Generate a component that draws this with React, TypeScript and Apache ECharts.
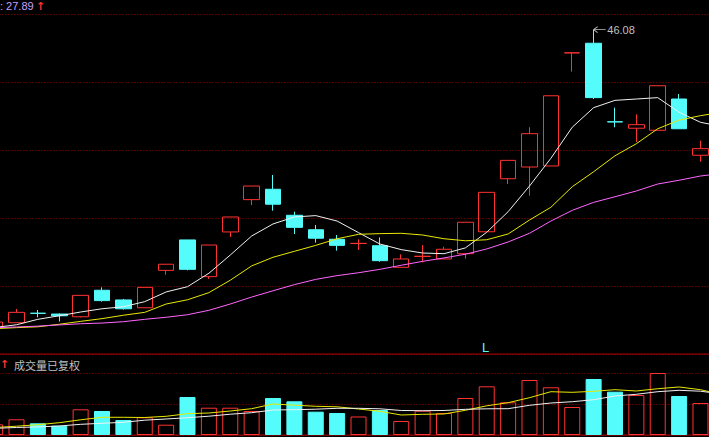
import React, { useEffect, useRef } from 'react';
import * as echarts from 'echarts';

// one slot per trading day; the last slot is only the moving averages running off the right edge
const days = [
    '01', '02', '03', '04', '05', '06', '07', '08', '09', '10',
    '11', '12', '13', '14', '15', '16', '17', '18', '19', '20',
    '21', '22', '23', '24', '25', '26', '27', '28', '29', '30',
    '31', '32', '33', '34', '35',
];

// [open, close, low, high]
const candles: (number[] | string)[] = [
    [28.59, 28.88, 28.47, 29.0],
    [28.84, 29.45, 28.84, 29.65],
    [29.4, 29.39, 29.16, 29.59],
    [29.35, 29.25, 28.91, 29.39],
    [29.19, 30.45, 29.15, 30.45],
    [30.75, 30.14, 30.08, 30.92],
    [30.18, 29.66, 29.61, 30.24],
    [29.72, 30.92, 29.72, 30.92],
    [31.92, 32.28, 31.66, 32.28],
    [33.71, 31.98, 31.92, 33.71],
    [31.55, 33.41, 31.41, 33.41],
    [34.18, 35.06, 33.88, 35.06],
    [36.08, 36.88, 35.76, 36.88],
    [36.69, 35.81, 35.43, 37.53],
    [35.16, 34.45, 34.06, 35.37],
    [34.31, 33.81, 33.55, 34.59],
    [33.75, 33.39, 33.08, 34.0],
    [33.5, 33.51, 33.12, 33.75],
    [33.37, 32.49, 32.43, 33.86],
    [32.1, 32.59, 32.1, 32.86],
    [32.74, 32.75, 32.39, 33.41],
    [32.59, 33.16, 32.59, 33.31],
    [32.9, 34.75, 32.61, 34.75],
    [34.19, 36.51, 34.19, 36.51],
    [37.31, 38.39, 37.0, 38.39],
    [38.0, 39.96, 36.31, 40.34],
    [38.06, 42.19, 38.06, 42.19],
    [44.71, 44.72, 43.61, 44.72],
    [45.28, 42.08, 42.0, 46.08],
    [40.66, 40.65, 40.34, 41.49],
    [40.28, 40.49, 39.47, 41.1],
    [40.16, 42.78, 40.16, 42.78],
    [42.0, 40.25, 40.25, 42.29],
    [38.69, 39.08, 38.31, 39.55],
    '-',
];

const ma5 = [
    28.56, 28.72, 29.04, 29.25, 29.47, 29.66, 29.78, 30.08, 30.65, 30.96,
    31.75, 32.82, 33.94, 34.65, 35.06, 35.14, 34.82, 34.14, 33.47, 33.14,
    32.94, 32.9, 33.24, 34.16, 35.37, 36.88, 38.51, 40.34, 41.49, 41.92,
    42.0, 42.08, 41.22, 40.63, 40.38,
];
const ma10 = [
    28.49, 28.55, 28.6, 28.75, 28.92, 29.08, 29.28, 29.45, 29.94, 30.19,
    30.61, 31.34, 32.18, 32.69, 33.04, 33.39, 33.78, 34.04, 34.08, 34.1,
    34.0, 33.78, 33.66, 33.72, 34.06, 34.88, 35.63, 36.84, 37.72, 38.66,
    39.37, 40.25, 40.76, 41.02, 41.22,
];
const ma20 = [
    28.55, 28.59, 28.64, 28.71, 28.78, 28.82, 28.9, 29.04, 29.16, 29.31,
    29.57, 29.94, 30.35, 30.72, 31.08, 31.39, 31.61, 31.78, 31.98, 32.22,
    32.45, 32.65, 32.87, 33.18, 33.59, 34.1, 34.82, 35.45, 35.92, 36.25,
    36.59, 37.0, 37.22, 37.47, 37.62,
];

// volume, 万手
const volumes = [
    3.47, 5.1, 3.8, 3.02, 8.34, 7.79, 4.87, 5.75, 3.34, 12.34,
    8.86, 8.86, 7.79, 12.01, 10.94, 7.57, 7.14, 6.01, 8.12, 4.55,
    7.89, 7.14, 12.01, 15.81, 10.62, 17.86, 15.49, 9.09, 18.18, 14.06,
    12.99, 20.13, 12.66, 10.39, '-',
];
const volMa5 = [
    2.44, 2.86, 3.34, 3.99, 4.94, 5.75, 5.75, 5.68, 6.07, 6.92,
    7.14, 7.79, 8.54, 10.07, 9.68, 9.32, 9.16, 8.44, 7.7, 6.49,
    6.72, 6.82, 8.02, 9.48, 10.49, 12.11, 14.06, 13.86, 14.19, 14.71,
    14.29, 15.03, 15.59, 14.71, 13.15,
];
const volMa10 = [
    2.18, 2.44, 2.63, 2.92, 3.47, 3.8, 4.12, 4.81, 5.2, 5.62,
    6.1, 6.75, 7.24, 8.12, 8.21, 8.38, 8.67, 8.67, 8.51, 7.96,
    7.89, 7.96, 8.34, 8.51, 8.54, 9.64, 10.39, 10.81, 11.46, 12.66,
    13.22, 14.06, 14.51, 14.22, 13.31,
];

const highIndex = 28;
const highValue = 46.08;
const legendValue = 27.89;

const RED = '#ff3232';
const CYAN = '#54fcfc';
const GRID_RED = '#a00000';
const FRAME_RED = '#a00000';
const GREY = '#c0c0c0';

// the chart div is wider than the window and shifted left, so the
// first and last day slots fall partly outside the visible frame
const SHIFT = 16;
const CHART_W = 749;

const makeVolumeBars = () =>
    volumes.map((v, i) => {
        const c = candles[i];
        if (typeof v !== 'number' || typeof c === 'string') return '-';
        const up = c[1] > c[0];
        return {
            value: v,
            itemStyle: up
                ? { color: 'rgba(0,0,0,0)', borderColor: RED, borderWidth: 1 }
                : { color: CYAN, borderColor: CYAN, borderWidth: 1 },
        };
    });

const maLine = (data: number[], color: string, xIdx: number, yIdx: number) => ({
    type: 'line' as const,
    data,
    xAxisIndex: xIdx,
    yAxisIndex: yIdx,
    symbol: 'none',
    showSymbol: false,
    silent: true,
    lineStyle: { color, width: 1 },
    z: 3,
});

const label = (text: string, x: number, y: number, fill: string, font: string) => ({
    type: 'text' as const,
    x: x + SHIFT,
    y,
    style: { text, fill, font, textVerticalAlign: 'middle', verticalAlign: 'middle' },
});

const dotted = { show: true, lineStyle: { color: GRID_RED, type: [1, 2], width: 1 } };

const makeOptions = (): echarts.EChartsOption => ({
    animation: false,
    backgroundColor: '#000',
    grid: [
        { left: 0.44, right: 0.44, top: 14, height: 340 },
        {
            left: 0.44,
            right: 0.44,
            top: 354,
            height: 81,
            show: true,
            borderColor: FRAME_RED,
            borderWidth: 1,
            backgroundColor: 'rgba(0,0,0,0)',
        },
    ],
    xAxis: [
        { type: 'category', gridIndex: 0, data: days, show: false },
        { type: 'category', gridIndex: 1, data: days, show: false },
    ],
    yAxis: [
        { type: 'value', gridIndex: 0, min: 27, max: 47, show: false },
        {
            type: 'value',
            gridIndex: 0,
            min: 0,
            max: 5,
            interval: 1,
            axisLine: { show: false },
            axisTick: { show: false },
            axisLabel: { show: false },
            splitLine: dotted,
        },
        {
            type: 'value',
            gridIndex: 1,
            min: 0,
            max: 26.3,
            interval: 10,
            axisLine: { show: false },
            axisTick: { show: false },
            axisLabel: { show: false },
            splitLine: dotted,
        },
    ],
    series: [
        {
            type: 'candlestick',
            xAxisIndex: 0,
            yAxisIndex: 0,
            data: candles,
            barWidth: 16,
            silent: true,
            itemStyle: {
                color: 'rgba(0,0,0,0)',
                color0: CYAN,
                borderColor: RED,
                borderColor0: CYAN,
                borderWidth: 1,
            },
            markPoint: {
                silent: true,
                symbol: 'path://M0,3L4,0M0,3L4,6M0,3L12,3',
                symbolSize: [12, 6],
                symbolOffset: [6, 0],
                itemStyle: { color: 'rgba(0,0,0,0)', borderColor: GREY, borderWidth: 1 },
                label: {
                    show: true,
                    position: 'right',
                    distance: 1,
                    color: GREY,
                    fontSize: 11,
                    fontFamily: 'Liberation Sans',
                    formatter: '{c}',
                },
                data: [{ coord: [highIndex, highValue], value: highValue }],
            },
        },
        maLine(ma5, '#f0f0f0', 0, 0),
        maLine(ma10, '#e8e800', 0, 0),
        maLine(ma20, '#ff66ff', 0, 0),
        {
            type: 'bar',
            xAxisIndex: 1,
            yAxisIndex: 2,
            data: makeVolumeBars(),
            barWidth: 16,
            silent: true,
        },
        maLine(volMa5, '#e8e800', 1, 2),
        maLine(volMa10, '#f0f0f0', 1, 2),
    ],
    graphic: [
        label(': ' + legendValue.toFixed(2), 0, 6, '#c8a0ff', '11px "Liberation Sans"'),
        label('↑', 36, 6, RED, 'bold 11px "DejaVu Sans"'),
        label('L', 482, 347, CYAN, '13px "Liberation Sans"'),
        label('↑', 0, 364, RED, 'bold 11px "DejaVu Sans"'),
        label('成交量已复权', 14, 365, GREY, '11px "Noto Sans CJK SC"'),
    ],
});

const App: React.FC = () => {
    const chartRef = useRef<HTMLDivElement>(null);

    useEffect(() => {
        document.body.style.margin = '0';
        document.body.style.background = '#000';
        const chart = echarts.init(chartRef.current!, undefined, { renderer: 'svg' });
        chart.setOption(makeOptions());
        return () => {
            chart.dispose();
        };
    }, []);

    return (
        <div
            style={{
                position: 'absolute',
                left: 0,
                top: 0,
                width: 709,
                height: 437,
                overflow: 'hidden',
                background: '#000',
            }}
        >
            <div
                ref={chartRef}
                style={{ position: 'absolute', left: -SHIFT, top: 0, width: CHART_W, height: 437 }}
            />
        </div>
    );
};

export default App;
